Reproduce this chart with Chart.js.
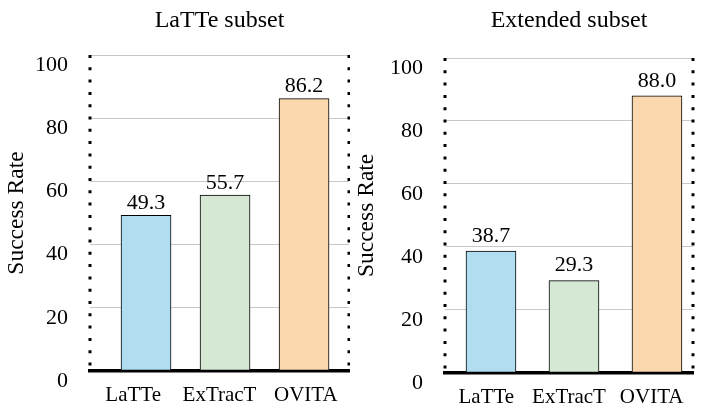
<!DOCTYPE html>
<html>
<head>
<meta charset="utf-8">
<script src="https://cdn.jsdelivr.net/npm/chart.js@4.4.1/dist/chart.umd.min.js"></script>
<style>
  body { margin: 0; background: #fff; font-family: 'Liberation Serif', serif; }
  .wrap { display: flex; width: 701px; height: 408px; }
  canvas { display: block; }
</style>
</head>
<body>
<div class="wrap">
  <canvas id="latteChart" width="350" height="408"></canvas>
  <canvas id="extChart" width="351" height="408"></canvas>
</div>
<script>
// 數據
const categories = ['LaTTe', 'ExTracT', 'OVITA'];
const latteValues = [49.3, 55.7, 86.2];
const extendedValues = [38.7, 29.3, 88.0];
const barColors = ['#b1ddf0', '#d5e8d4', '#fad7ac'];
const chartTitles = ['LaTTe subset', 'Extended subset'];
const yTitle = 'Success Rate';

const FONT = '"Liberation Serif"';

// 左右兩側的點狀邊框
const dottedBorders = {
    id: 'dottedBorders',
    beforeDatasetsDraw(chart) {
        const { ctx, chartArea } = chart;
        ctx.save();
        ctx.strokeStyle = '#000';
        ctx.lineWidth = 3;
        ctx.setLineDash([3, 9.3]);
        [chartArea.left, chartArea.right].forEach(function (x) {
            ctx.beginPath();
            ctx.moveTo(x, chartArea.top);
            ctx.lineTo(x, chartArea.bottom);
            ctx.stroke();
        });
        ctx.restore();
    }
};

// 柱狀圖上方的數值
const valueLabels = {
    id: 'valueLabels',
    afterDatasetsDraw(chart, args, opts) {
        const { ctx } = chart;
        const meta = chart.getDatasetMeta(0);
        const data = chart.data.datasets[0].data;
        ctx.save();
        ctx.fillStyle = '#000';
        ctx.font = '22px ' + FONT;
        ctx.textAlign = 'center';
        ctx.textBaseline = 'bottom';
        meta.data.forEach(function (bar, i) {
            ctx.fillText(data[i].y.toFixed(1), bar.x, bar.y - opts.gap + 4);
        });
        ctx.restore();
    }
};

/**
 * 建立單一子圖
 */
function makeChart(id, title, values, cfg) {
    const ctx = document.getElementById(id);
    return new Chart(ctx, {
        type: 'bar',
        data: {
            labels: categories,
            datasets: [{
                data: values.map(function (v, i) { return { x: i, y: v }; }),
                xAxisID: 'xb',
                yAxisID: 'y',
                backgroundColor: barColors,
                borderColor: '#000',
                borderWidth: 1,
                borderSkipped: false,
                barThickness: 50
            }]
        },
        options: {
            responsive: false,
            animation: false,
            layout: {
                padding: { left: 0, right: cfg.padRight, top: 0, bottom: 0 }
            },
            plugins: {
                legend: { display: false },
                tooltip: { enabled: false },
                title: {
                    display: true,
                    text: title,
                    fullSize: false,
                    color: '#000',
                    font: { family: FONT, size: 24, weight: 'normal', lineHeight: 1.2 },
                    padding: { top: 6, bottom: cfg.top - 6 - 28.8 }
                },
                valueLabels: { gap: cfg.gap }
            },
            scales: {
                x: {
                    type: 'category',
                    offset: true,
                    grid: { display: false },
                    border: { display: true, color: '#000', width: 3.5 },
                    ticks: {
                        color: '#000',
                        padding: 4,
                        font: { family: FONT, size: 21 }
                    },
                    afterFit: function (scale) { scale.height = cfg.xHeight; }
                },
                xb: {
                    type: 'linear',
                    display: false,
                    offset: false,
                    grid: { offset: false },
                    min: cfg.barMin,
                    max: cfg.barMax
                },
                y: {
                    min: 0,
                    max: 100,
                    grid: {
                        color: '#c8c8c8',
                        lineWidth: 1,
                        drawTicks: false
                    },
                    border: { display: false },
                    ticks: {
                        stepSize: 20,
                        color: '#000',
                        padding: 22,
                        labelOffset: 10,
                        font: { family: FONT, size: 22 }
                    },
                    title: {
                        display: true,
                        text: yTitle,
                        color: '#000',
                        padding: { top: 3, bottom: 0 },
                        font: { family: FONT, size: 23.5 }
                    },
                    afterFit: function (scale) { scale.width = cfg.yWidth; }
                }
            }
        },
        plugins: [dottedBorders, valueLabels]
    });
}

function drawAll() {
    makeChart('latteChart', chartTitles[0], latteValues, {
        top: 55, xHeight: 37, yWidth: 90, padRight: 1,
        barMin: -0.709, barMax: 2.569, gap: 5
    });

    makeChart('extChart', chartTitles[1], extendedValues, {
        top: 58, xHeight: 35, yWidth: 95, padRight: 8,
        barMin: -0.554, barMax: 2.434, gap: 8
    });
}

document.fonts.load('22px "Liberation Serif"').then(drawAll, drawAll);
</script>
</body>
</html>
